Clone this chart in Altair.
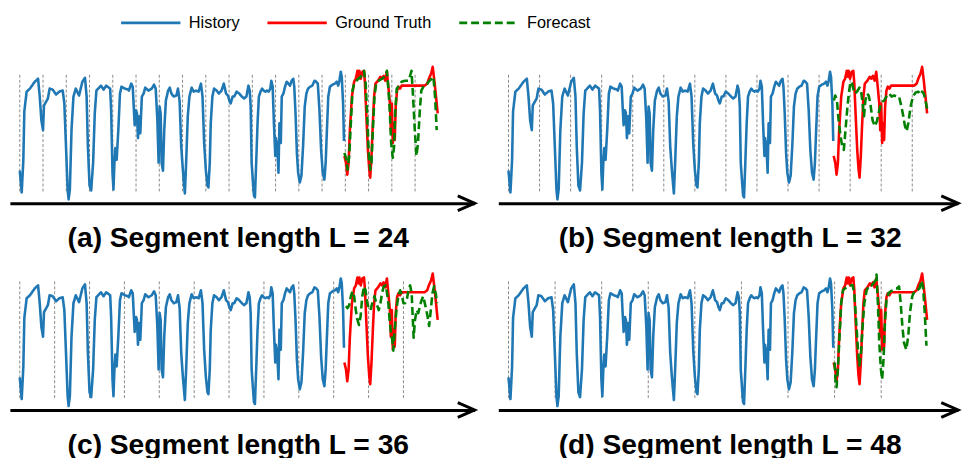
import altair as alt
import pandas as pd

# ---------------- data ----------------
HIST_STEP = [0, 2, 3.7, 4.7, 7.1, 10.5, 15.5, 18.9, 20.6, 22.3, 24, 25, 29, 30.8, 34, 37.5, 40.9, 44.3, 46, 47.7,
             49.4, 50.4, 51.7, 53.4, 55.4, 57.8, 61.2, 64.6, 67.3, 69, 70.3, 72, 73.7, 75.7, 77.4, 79.1, 83.8, 86.5,
             89.2, 93.3, 94.3, 95.7, 96.7, 97.7, 98.7, 100, 101.7, 103.4, 105, 108.5, 111.9,
             112.6, 115, 116.6, 117.6, 118.6, 120, 121, 122, 123.4, 124.4, 126, 127.8, 129.5, 132.8, 136.2, 138.6,
             140.3, 142, 143.3, 144.3, 145.4, 146.4, 147.8, 149.1, 150.8, 153.1, 154.8, 156.5, 158.9, 161.6, 163.3,
             165, 166.6, 168.3, 169.4, 170.4, 171.7, 173.4, 175.1, 177.4, 179.5, 181.9, 184.6, 187, 188.6, 190.3,
             192, 193.7, 194.7, 196.1, 197.1, 198.8, 200.5, 203.2, 205.5, 208.2, 210.6, 212.9, 214.9, 216.3, 217.7,
             219.7, 221.4, 223.8, 226.5, 229.2, 231.5, 233.9, 236, 237.3, 238.3, 239.3, 240.7, 241.7, 242.7, 244,
             245.4, 246.8, 248.5, 250.1, 251.8, 253.5, 255.2, 256.9, 258.6, 259.6, 261, 262.3, 263.7, 264.3, 265.7,
             267, 268, 269.4, 270.4, 272.1, 273.8, 275.5, 277.2, 278.9, 280.6, 282.3, 283.3, 284.6, 286, 287.3, 289,
             290.7, 292.4, 294.1, 295.8, 297.5, 299.8, 301.9, 304.2, 305.9, 307.6, 309.3, 311, 312.7, 314.4, 315.7,
             317, 318.4, 320.1, 322.8, 325.2, 327.2, 328.6, 329.9, 331.3, 332.3, 333.7, 334.6]
HIST_VAL = [29, 7, 40, 89, 109, 112, 119, 122, 104, 80, 70, 95, 102, 112, 111, 106, 109, 110, 97, 54,
            10, 0, 10, 70, 104, 112, 105, 119, 123, 104, 54, 14, 9, 37, 87, 110, 115, 111,
            115, 112, 90, 27, 10, 37, 52, 40, 70, 107, 114, 112, 111,
            110, 117, 114, 94, 75, 90, 87, 62, 84, 67, 104, 107, 113, 110, 112, 116,
            112, 80, 37, 94, 87, 37, 29, 70, 100, 110, 113, 107, 104, 105, 112,
            99, 54, 30, 17, 6, 37, 84, 104, 113, 109, 110, 109, 117, 104, 57,
            30, 14, 12, 37, 77, 104, 112, 110, 107, 110, 117, 107, 105, 100, 97,
            104, 104, 109, 107, 104, 102, 104, 115, 110, 94, 37, 17, 4, 2, 37,
            77, 104, 109, 112, 110, 109, 110, 109, 112, 120, 114, 77, 44, 62, 54,
            27, 77, 57, 104, 107, 114, 119, 117, 115, 120, 122, 114, 87, 47, 27, 17,
            24, 54, 94, 107, 112, 114, 115, 120, 119, 117, 90, 50, 27, 20, 37,
            70, 104, 114, 116, 117, 119, 115, 120, 129, 124, 97, 59]

GT_STEP = [335, 336.7, 338, 339.4, 340.7, 342.8, 345.1, 346.8, 348.5, 349.5, 350.5, 351.9, 353.6, 355.3, 356.3,
           357.6, 359.3, 360.7, 361.7, 363, 364.4, 365.7, 367.1, 369.8, 372.2, 373.9, 375.5, 377.2, 378.9, 380.6,
           382, 383, 384, 385, 386, 387, 388, 389.4, 390.8, 392.5, 394.1, 397.5, 407.7, 417.8, 420.5, 422.2, 424.5,
           426.2, 427.9, 429.6, 431.3]
GT_VAL = [44, 37, 25, 37, 70, 104, 119, 122, 130, 124, 130, 122, 129, 130, 117,
          87, 50, 30, 22, 44, 77, 104, 117, 120, 124, 122, 125, 120, 129, 112,
          97, 70, 97, 57, 77, 60, 94, 110, 114, 112, 115, 115, 115, 115, 117, 122, 127,
          134, 120, 104, 87]

FC_A_STEP = [335, 336.7, 338.4, 340, 341.7, 343.4, 345.1, 347.5, 349.5, 351.9, 353.6, 355.3, 357, 358.6, 360.3,
             361.7, 363, 364.4, 366.1, 367.8, 370.5, 373.9, 376.6, 378.9, 380.6, 382, 383.3, 385, 386.4, 387.4,
             389.1, 390.8, 394.1, 397.5, 400.9, 402.6, 404.3, 405.9, 407.7, 409.4, 411, 412.7, 414.4, 417.1, 420.5,
             422.8, 425.2, 426.9, 428.6, 430.3]
FC_A_VAL = [47, 42, 30, 44, 77, 110, 117, 120, 122, 124, 127, 130, 117, 84, 44,
            30, 37, 70, 104, 117, 120, 122, 124, 130, 110, 87, 57, 42, 54, 87,
            112, 114, 119, 120, 120, 124, 130, 104, 70, 44, 57, 87, 110, 115, 117,
            120, 122, 124, 104, 70]

FC_B_STEP = [335.3, 336.7, 338.4, 340.1, 342.1, 343.8, 345.5, 347.2, 348.9, 350.6, 352.3, 354, 355.7, 357.4, 359.8,
             361.5, 363.2, 364.9, 366.3, 367.7, 369.4, 371.1, 372.8, 375.1, 377.5, 379.6, 382, 383.7, 385.4, 387.1,
             389.4, 392.2, 394.6, 397.3, 400, 402.4, 404.8, 406.8, 408.5, 410.2, 411.9, 414.3, 416.7, 419.4, 422.1,
             424.5, 426.2, 427.9, 429.6, 431.3]
FC_B_VAL = [100, 105, 100, 80, 64, 54, 50, 70, 90, 107, 119, 117, 110, 107, 110,
            113, 110, 97, 84, 100, 107, 105, 97, 80, 74, 79, 90, 97, 99, 100,
            104, 107, 104, 105, 104, 104, 94, 84, 74, 69, 77, 94, 104, 108, 109,
            106, 109, 107, 100, 92]

FC_C_STEP = [336.6, 338.3, 340, 341.7, 343.4, 345.1, 346.8, 348.5, 350.1, 351.8, 353.5, 355.2, 356.9, 358.6, 360.3,
             362, 363.7, 366.1, 368.1, 370.5, 372.2, 373.9, 375.6, 377.7, 379, 380.4, 381.7, 383.1, 384.4, 385.5,
             386.5, 387.8, 389.2, 390.9, 392.6, 394.3, 396, 397.7, 399.4, 401.1, 402.8, 404.5, 405.5, 406.5, 407.9,
             409.6, 411.3, 413, 414.7, 416.4, 418.7, 420.8, 422.5, 424.2, 425.9, 427.6, 429.3, 430.6]
FC_C_VAL = [101, 99, 102, 111, 116, 111, 97, 87, 82, 91, 111, 121, 117, 104, 99,
            97, 104, 111, 104, 97, 104, 114, 121, 122, 114, 104, 87, 74, 67, 56,
            71, 87, 101, 112, 117, 112, 104, 104, 107, 117, 122, 114, 91, 69, 87,
            97, 94, 101, 107, 111, 101, 91, 81, 97, 114, 121, 114, 104]

FC_D_STEP = [336, 337, 338, 339.4, 341.1, 342.8, 344.5, 346.9, 349.6, 352.3, 354.7, 356.4, 358.1, 359.8, 361.5,
             363.2, 364.9, 366.6, 369, 371.7, 374.1, 376.2, 377.9, 379.2, 380.6, 382, 383.7, 385, 386.4, 387.7,
             389.4, 391.5, 393.9, 396.6, 399, 400.7, 402.4, 404.1, 405.8, 407.5, 409.9, 411.9, 413.6, 416, 418.4,
             421.1, 423.5, 425.5, 427.2, 428.9, 430.6]
FC_D_VAL = [44, 24, 19, 38, 71, 104, 117, 119, 121, 122, 122, 112, 87, 61, 41,
            54, 81, 104, 117, 122, 122, 124, 127, 133, 104, 64, 37, 27, 47, 81,
            107, 114, 116, 117, 119, 119, 121, 104, 81, 64, 57, 71, 94, 111, 116,
            117, 119, 127, 119, 94, 61]

SEG_LENGTHS = [24, 32, 36, 48]
PANEL_TITLES = ["(a) Segment length L = 24", "(b) Segment length L = 32",
                "(c) Segment length L = 36", "(d) Segment length L = 48"]
SERIES = ["History", "Ground Truth", "Forecast"]
COLORS = ["#1f77b4", "#ff0000", "#008000"]
DASHES = [[1, 0], [1, 0], [8, 4]]
HORIZON_END = 432
FORECASTS = [(FC_A_STEP, FC_A_VAL), (FC_B_STEP, FC_B_VAL), (FC_C_STEP, FC_C_VAL), (FC_D_STEP, FC_D_VAL)]

# ---------------- layout constants ----------------
Y_DOMAIN = [-4, 137]
PANEL_H = 141
VLINE_LO, VLINE_HI = 8, 126
LEFT_W, LEFT_DOMAIN = 470, [-10.2, 469.4]
RIGHT_W, RIGHT_DOMAIN = 465, [-10.5, 463.2]

FONT = "Liberation Sans, Arial, sans-serif"

color_scale = alt.Scale(domain=SERIES, range=COLORS)
dash_scale = alt.Scale(domain=SERIES, range=DASHES)
# small nominal symbol size keeps the legend rows short; the path reaches 3x further so the stroke is 60 px long
legend = alt.Legend(orient="none", legendX=131, legendY=-53, direction="horizontal", columns=3,
                    title=None, symbolType="M-3,0L3,0", symbolSize=400, symbolStrokeWidth=3,
                    symbolFillColor="transparent",
                    labelFontSize=16.5, labelFont=FONT, labelColor="black", labelOffset=27,
                    columnPadding=21, padding=0, labelLimit=300)


def panel(i, width, xdom, title_dx):
    L = SEG_LENGTHS[i]
    xs = alt.Scale(domain=xdom, nice=False, zero=False)
    ys = alt.Scale(domain=Y_DOMAIN, nice=False, zero=False)
    xaxis = alt.Axis(domain=True, domainWidth=3, domainColor="black", ticks=False, labels=False,
                     grid=False, title=None)
    marks = list(range(0, HORIZON_END, L))
    vdf = pd.DataFrame({"x": marks, "lo": [VLINE_LO] * len(marks), "hi": [VLINE_HI] * len(marks)})
    vlines = alt.Chart(vdf).mark_rule(color="#8a8a8a", strokeWidth=1, strokeDash=[3, 2]).encode(
        x=alt.X("x:Q", scale=xs, axis=xaxis),
        y=alt.Y("lo:Q", scale=ys, axis=None),
        y2="hi:Q",
    )

    def line(steps, vals, name):
        df = pd.DataFrame({"step": steps, "val": vals, "series": [name] * len(steps)})
        return alt.Chart(df).mark_line(strokeWidth=2.6, strokeJoin="round").encode(
            x=alt.X("step:Q", scale=xs, axis=xaxis),
            y=alt.Y("val:Q", scale=ys, axis=None),
            color=alt.Color("series:N", scale=color_scale, legend=legend),
            strokeDash=alt.StrokeDash("series:N", scale=dash_scale, legend=legend),
            order="step:Q",
        )

    fs, fv = FORECASTS[i]
    hist = line(HIST_STEP, HIST_VAL, "History")
    gt = line(GT_STEP, GT_VAL, "Ground Truth")
    fc = line(fs, fv, "Forecast")

    adf = pd.DataFrame({"x": [xdom[1]], "y": [Y_DOMAIN[0]]})
    arrow = alt.Chart(adf).mark_point(shape="M-1,-0.44L0,0L-1,0.44", size=1156, filled=False,
                                      stroke="black", strokeWidth=3, opacity=1).encode(
        x=alt.X("x:Q", scale=xs, axis=xaxis),
        y=alt.Y("y:Q", scale=ys, axis=None),
    )
    return alt.layer(vlines, hist, gt, fc, arrow).properties(
        width=width, height=PANEL_H,
        title=alt.TitleParams(PANEL_TITLES[i], orient="bottom", anchor="middle", fontSize=28.5,
                              fontWeight="bold", font=FONT, color="black", offset=8, dx=title_dx),
    )


row1 = alt.hconcat(panel(0, LEFT_W, LEFT_DOMAIN, -4), panel(1, RIGHT_W, RIGHT_DOMAIN, 2), spacing=18)
row2 = alt.hconcat(panel(2, LEFT_W, LEFT_DOMAIN, -4), panel(3, RIGHT_W, RIGHT_DOMAIN, 2), spacing=18)

chart = alt.vconcat(row1, row2, spacing=18).properties(
    padding={"left": 10, "top": 9, "right": 0, "bottom": 0},
    background="white",
).configure_view(stroke=None)

chart.save("out.html", embed_options={"renderer": "svg", "actions": False})
